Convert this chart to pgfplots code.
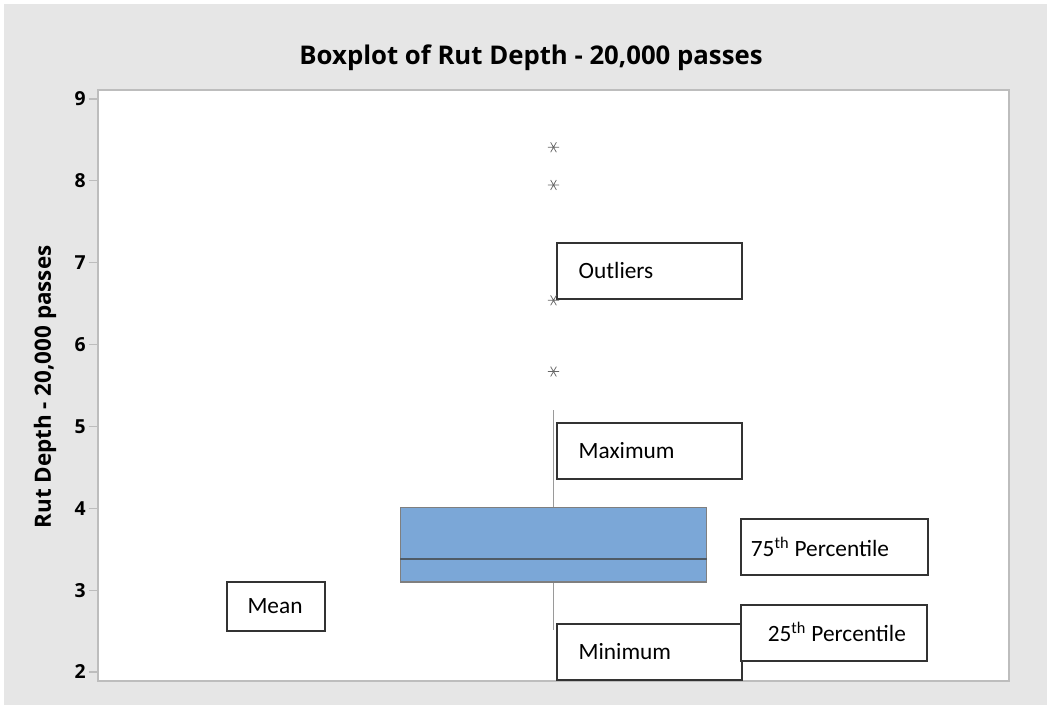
\documentclass[border=0pt]{standalone}
\usepackage{fontspec}
\setmainfont{Open Sans}
\newfontfamily\calib{Carlito}
\usepackage{pgfplots}
\pgfplotsset{compat=1.18}
\usepgfplotslibrary{statistics}
\definecolor{bggray}{HTML}{E6E6E6}
\definecolor{framegray}{HTML}{BDBDBD}
\definecolor{boxblue}{HTML}{7BA7D7}
\definecolor{boxedge}{HTML}{7F7F7F}
\definecolor{medcol}{HTML}{4F5B66}
\definecolor{whiskcol}{HTML}{9A9A9A}
\definecolor{annline}{HTML}{333333}
\begin{document}
\begin{tikzpicture}
\begin{scope}[x=0.75pt,y=0.75pt]
\fill[white] (0,0) rectangle (1047,705);
\fill[bggray] (4,0) rectangle (1047,701);
\node[font=\fontsize{19.3}{22}\selectfont\bfseries] at (531,647) {Boxplot of Rut Depth - 20,000 passes};
\node[font=\fontsize{16.8}{19}\selectfont\bfseries, rotate=90] at (45,318) {Rut Depth - 20,000 passes};
\end{scope}
\begin{axis}[
  at={(73.5pt,18pt)}, anchor=south west,
  scale only axis, width=683.25pt, height=443.25pt,
  xmin=0, xmax=1, ymin=1.89, ymax=9.11,
  xtick=\empty, ytick={2,3,4,5,6,7,8,9},
  ytick pos=left, tick align=outside, major tick length=7pt,
  tick style={framegray, line width=0.8pt},
  axis line style={framegray, line width=1.1pt},
  axis background/.style={fill=white},
  yticklabel style={font=\fontsize{14.5}{16}\selectfont\bfseries, inner xsep=2pt},
  /pgf/number format/assume math mode=true,
  clip=false,
]
\addplot+[
  boxplot prepared={draw direction=y, draw position=0.5, lower whisker=2.51, lower quartile=3.10,
    median=3.38, upper quartile=4.01, upper whisker=5.20,
    box extend=0.336, whisker extend=0,
    every box/.style={fill=boxblue, draw=boxedge, line width=0.9pt},
    every median/.style={draw=medcol, line width=0.8pt},
    every whisker/.style={draw=whiskcol, line width=0.9pt}},
  mark=asterisk, mark size=4.3pt, mark options={draw=black!60, line width=0.55pt, solid, rotate=90}
] table[row sep=\\, y index=0] {8.41\\ 7.95\\ 6.54\\ 5.67\\};
% annotation boxes
\begin{scope}[annline, line width=1.1pt]
\draw[fill=white] (axis cs:0.5038,7.241) rectangle (axis cs:0.7069,6.557);
\node[anchor=west, text=black, font=\calib\fontsize{17.5}{20}\selectfont, inner sep=0pt] at (axis cs:0.5268,6.899) {Outliers};
\draw[fill=white] (axis cs:0.5038,5.042) rectangle (axis cs:0.7069,4.358);
\node[anchor=west, text=black, font=\calib\fontsize{17.5}{20}\selectfont, inner sep=0pt] at (axis cs:0.5268,4.700) {Maximum};
\draw[fill=white] (axis cs:0.7058,3.869) rectangle (axis cs:0.9111,3.185);
\node[text=black, font=\calib\fontsize{17.5}{20}\selectfont, inner sep=0pt] at (axis cs:0.7925,3.527) {75\textsuperscript{th} Percentile};
\draw[fill=white] (axis cs:0.1416,3.100) rectangle (axis cs:0.2492,2.501);
\node[text=black, font=\calib\fontsize{17.5}{20}\selectfont, inner sep=0pt] at (axis cs:0.1943,2.800) {Mean};
\draw[fill=white] (axis cs:0.5038,2.587) rectangle (axis cs:0.7069,1.903);
\node[anchor=west, text=black, font=\calib\fontsize{17.5}{20}\selectfont, inner sep=0pt] at (axis cs:0.5268,2.245) {Minimum};
\draw[fill=white] (axis cs:0.7058,2.819) rectangle (axis cs:0.9100,2.135);
\node[text=black, font=\calib\fontsize{17.5}{20}\selectfont, inner sep=0pt] at (axis cs:0.8110,2.490) {25\textsuperscript{th} Percentile};
\end{scope}
\end{axis}
\end{tikzpicture}
\end{document}
